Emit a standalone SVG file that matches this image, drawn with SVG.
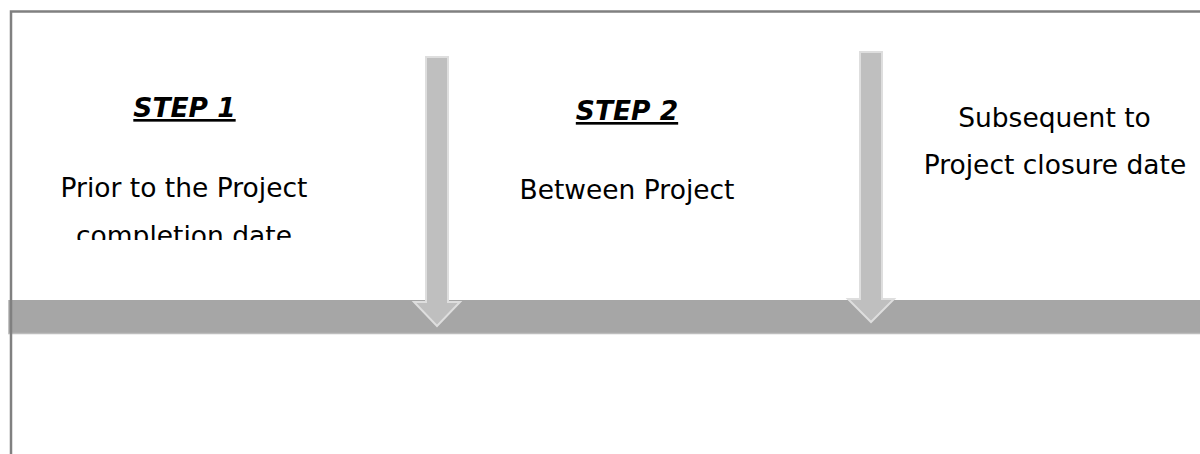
<svg xmlns="http://www.w3.org/2000/svg" width="1200" height="454" viewBox="0 0 1200 454">
  <style>
    .lbl { font-family: "DejaVu Sans", Verdana, sans-serif; font-size: 26.5px; fill: #000; text-anchor: middle; }
    .head { font-family: "DejaVu Sans", Verdana, sans-serif; font-size: 26.5px; font-weight: bold; font-style: italic; text-decoration: underline; fill: #000; text-anchor: middle; }
    .arrow { fill: #bfbfbf; stroke: #dedede; stroke-width: 2; stroke-linejoin: miter; }
    .frame { fill: none; stroke: #808080; stroke-width: 2.5; }
  </style>
  <defs>
    <clipPath id="step1-box">
      <rect x="20" y="20" width="340" height="220"/>
    </clipPath>
  </defs>

  <rect width="1200" height="454" fill="#fff"/>

  <!-- timeline band -->
  <g id="timeline">
    <rect x="8" y="300" width="1192" height="34" fill="#a6a6a6"/>
    <line x1="8" y1="333.5" x2="1200" y2="333.5" stroke="#bdbdbd" stroke-width="1.5"/>
    <line x1="8.5" y1="300" x2="8.5" y2="334" stroke="#c4c4c4" stroke-width="1"/>
  </g>

  <!-- milestone arrows pointing onto the band -->
  <g id="connectors">
    <path id="arrow-1" class="arrow" d="M426,57 H448 V302 H460 L437,326 L414,302 H426 Z"/>
    <path id="arrow-2" class="arrow" d="M860,52 H882 V299 H894 L871,322 L848,299 H860 Z"/>
  </g>

  <g id="step1" clip-path="url(#step1-box)">
    <text class="head" x="184.5" y="117">STEP 1</text>
    <text class="lbl" x="184" y="197">Prior to the Project</text>
    <text class="lbl" x="184" y="244.5">completion date</text>
  </g>

  <g id="step2">
    <text class="head" x="627" y="120">STEP 2</text>
    <text class="lbl" x="627" y="199">Between Project</text>
  </g>

  <g id="step3">
    <text class="lbl" x="1054.5" y="127">Subsequent to</text>
    <text class="lbl" x="1055" y="174">Project closure date</text>
  </g>

  <!-- outer frame (top and left edges) -->
  <g id="frame">
    <path class="frame" d="M11,454 V11.5 H1200"/>
  </g>
</svg>
